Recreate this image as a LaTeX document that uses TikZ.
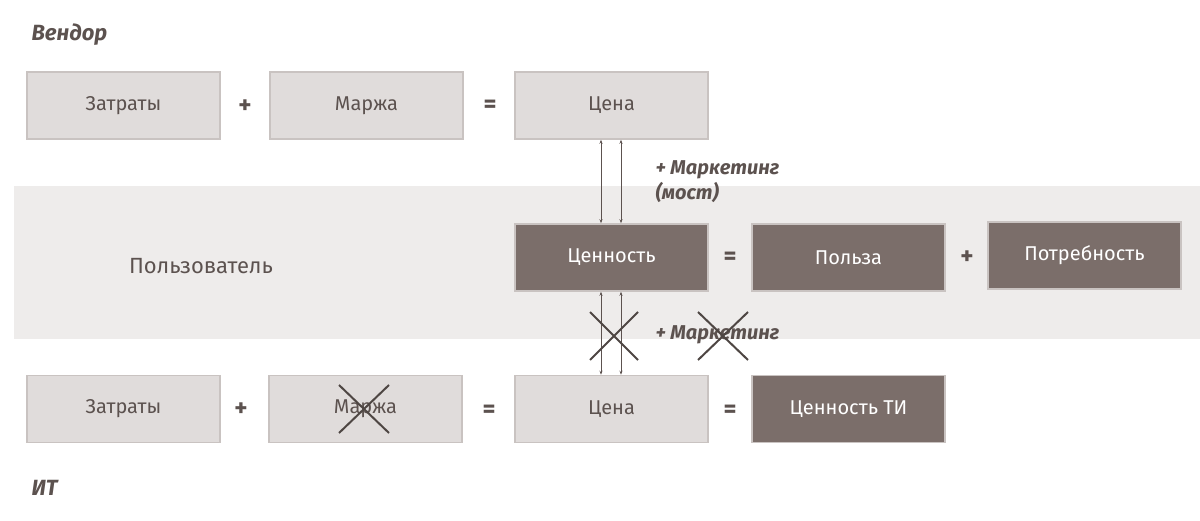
\documentclass[tikz,border=0pt]{standalone}
\usepackage{fontspec}
\setmainfont{Fira Sans}
\usetikzlibrary{arrows.meta}
\definecolor{lbox}{HTML}{E0DCDB}
\definecolor{lbord}{HTML}{C9C3C1}
\definecolor{dbox}{HTML}{7B6E6A}
\definecolor{band}{HTML}{EEECEB}
\definecolor{txt}{HTML}{5C524F}
\tikzset{
 lb/.style={fill=lbox,draw=lbord,line width=1.5pt,minimum width=193pt,minimum height=67pt,text=txt,font=\fontsize{20}{22}\selectfont,inner sep=0},
 db/.style={fill=dbox,draw=lbord,line width=1.5pt,minimum width=193pt,minimum height=67pt,text=white,font=\fontsize{20}{22}\selectfont,inner sep=0},
 op/.style={text=txt,font=\bfseries\fontsize{25}{26}\selectfont},
 ttl/.style={text=txt,font=\bfseries\itshape\fontsize{22}{24}\selectfont,anchor=west},
 mk/.style={text=txt,font=\bfseries\itshape\fontsize{20}{25}\selectfont,anchor=west,align=left},
 dar/.style={{Stealth[length=4pt,width=3pt]}-{Stealth[length=4pt,width=3pt]},draw=txt,line width=0.8pt},
 crs/.style={draw=txt!85!black,line width=2pt}
}
\begin{document}
\begin{tikzpicture}[x=1pt,y=-1pt]
\useasboundingbox (0,0) rectangle (1200,521);
\fill[band] (14,186) rectangle (1200,339);
\node[ttl] (ven) at (28,35) {Вендор};
\node[ttl] (it) at (28,488) {ИТ};
\node[lb] (z1) at (123.5,105.5) {Затраты};
\node[op] (p1) at (245,107) {+};
\node[lb] (m1) at (366.5,105.5) {Маржа};
\node[op] (e1) at (490,106) {=};
\node[lb] (c1) at (611.5,105.5) {Цена};
\node[text=txt,font=\fontsize{22}{24}\selectfont] (usr) at (201,266) {Пользователь};
\node[db] (v) at (611.5,257.5) {Ценность};
\node[op] (e2) at (730,258) {=};
\node[db] (pz) at (848.5,257.5) {Польза};
\node[op] (p2) at (967,258) {+};
\node[db] (pt) at (1084.5,255.5) {Потребность};
\node[lb] (z2) at (123.5,409) {Затраты};
\node[op] (p3) at (241,410) {+};
\node[lb] (m2) at (365.5,409) {Маржа};
\node[op] (e3) at (489,411) {=};
\node[lb] (c2) at (611.5,409) {Цена};
\node[op] (e4) at (730,411) {=};
\node[db] (vt) at (848.5,409) {Ценность ТИ};
\node[mk] (mk1) at (652,182) {+ Маркетинг\\(мост)};
\node[mk] (mk2) at (652,335) {+ Маркетинг};
\draw[dar] (c1.south -| 601,0) -- (v.north -| 601,0);
\draw[dar] (c1.south -| 621,0) -- (v.north -| 621,0);
\draw[dar] (v.south -| 601,0) -- (c2.north -| 601,0);
\draw[dar] (v.south -| 621,0) -- (c2.north -| 621,0);
\draw[crs] (590,312) -- (638,360) (638,312) -- (590,360);
\draw[crs] (698,312) -- (748,360) (748,312) -- (698,360);
\draw[crs] (339,385) -- (389,433) (389,385) -- (339,433);
\end{tikzpicture}
\end{document}
